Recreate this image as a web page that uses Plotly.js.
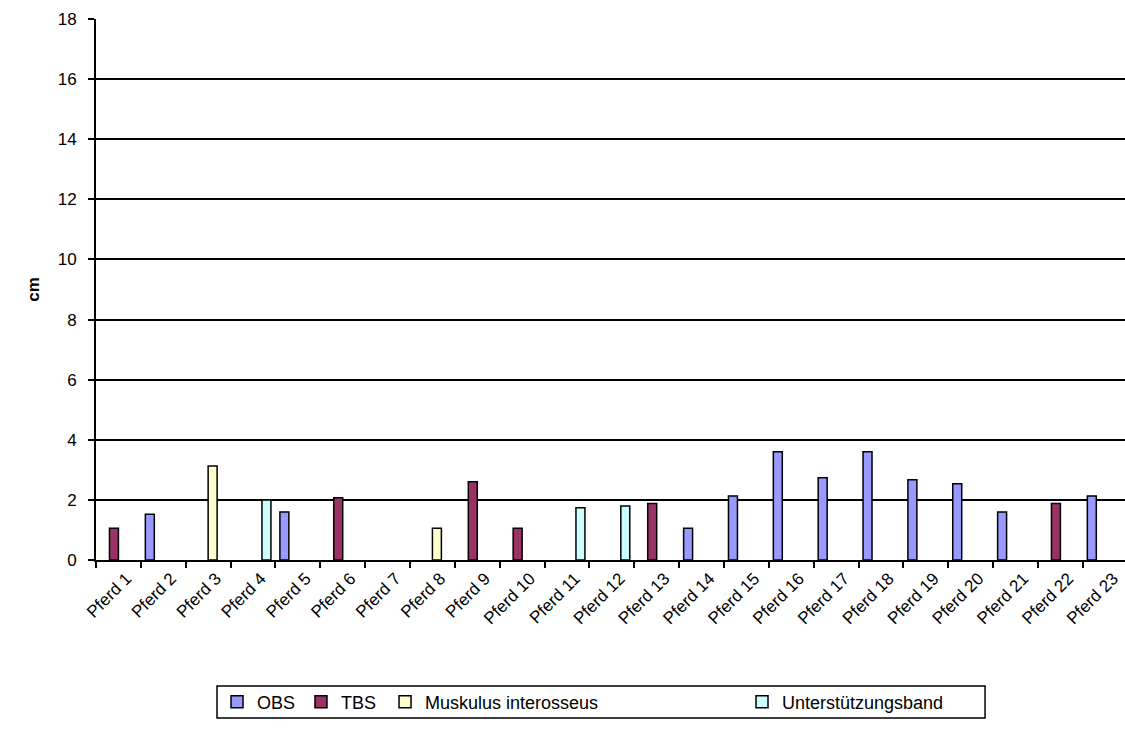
<!DOCTYPE html>
<html>
<head>
<meta charset="utf-8">
<script src="https://cdn.plot.ly/plotly-3.0.1.min.js"></script>
<style>html,body{margin:0;padding:0;background:#fff;}#chart{width:1125px;height:735px;}</style>
</head>
<body>
<div id="chart"></div>
<script>
const categories = ["Pferd 1","Pferd 2","Pferd 3","Pferd 4","Pferd 5","Pferd 6","Pferd 7","Pferd 8","Pferd 9","Pferd 10","Pferd 11","Pferd 12","Pferd 13","Pferd 14","Pferd 15","Pferd 16","Pferd 17","Pferd 18","Pferd 19","Pferd 20","Pferd 21","Pferd 22","Pferd 23"];
const obs  = [null,1.52,null,null,1.6,null,null,null,null,null,null,null,null,1.06,2.13,3.6,2.74,3.6,2.67,2.54,1.6,null,2.13];
const tbs  = [1.06,null,null,null,null,2.07,null,null,2.6,1.06,null,null,1.88,null,null,null,null,null,null,null,null,1.88,null];
const musk = [null,null,3.13,null,null,null,null,1.06,null,null,null,null,null,null,null,null,null,null,null,null,null,null,null];
const unter= [null,null,null,2.0,null,null,null,null,null,null,1.74,1.8,null,null,null,null,null,null,null,null,null,null,null];
const seriesNames = ["OBS","TBS","Muskulus interosseus","Unterstützungsband"];
const seriesColors = ["#9999FF","#993366","#FFFFCC","#CCFFFF"];
const yTicks = [0,2,4,6,8,10,12,14,16,18];

const legendIds = ['legend','legend2','legend3','legend4'];
const legendX = [0.1176, 0.1992, 0.2809, 0.6278];

const vals = [obs,tbs,musk,unter];
const traces = vals.map((v,i)=>({
  type:'bar', name:seriesNames[i], x:categories, y:v, legend:legendIds[i],
  marker:{color:seriesColors[i], line:{color:'#000', width:1.5}},
  hoverinfo:'x+y+name'
}));

const layout = {
  width:1125, height:735,
  margin:{l:96, r:0, t:19, b:175},
  paper_bgcolor:'#fff', plot_bgcolor:'#fff',
  font:{family:'Liberation Sans, Arial, sans-serif', size:17, color:'#000'},
  barmode:'group', bargap:0.2, bargroupgap:0,
  showlegend:true,
  xaxis:{type:'category', range:[-0.5,22.44], showline:true, linecolor:'#000', linewidth:2,
         ticks:'outside', ticklen:6, tickwidth:2, tickcolor:'#000', tickson:'boundaries',
         tickangle:-45, ticklabelshift:8, showgrid:false, tickfont:{size:17}, automargin:false},
  yaxis:{range:[0,18], tickvals:yTicks, showline:true, linecolor:'#000', linewidth:2,
         ticks:'outside', ticklen:6, tickwidth:2, tickcolor:'#000', ticklabelstandoff:8,
         showgrid:true, gridcolor:'#000', gridwidth:2, zeroline:false,
         tickfont:{size:17},
         title:{text:'<b>cm</b>', font:{size:17}, standoff:14}, automargin:false},
  shapes:[{type:'rect', xref:'paper', yref:'paper', x0:0.1176, x1:0.864, y0:-0.2329, y1:-0.292,
           line:{color:'#000', width:1.5}, fillcolor:'rgba(0,0,0,0)', layer:'above'}]
};
legendIds.forEach((id,i)=>{
  layout[id] = {orientation:'h', x:legendX[i], xanchor:'left', y:-0.2625, yanchor:'middle',
                borderwidth:0, bgcolor:'rgba(0,0,0,0)', font:{size:18}, itemwidth:30};
});
Plotly.newPlot('chart', traces, layout, {displayModeBar:false, staticPlot:true});
</script>
</body>
</html>
